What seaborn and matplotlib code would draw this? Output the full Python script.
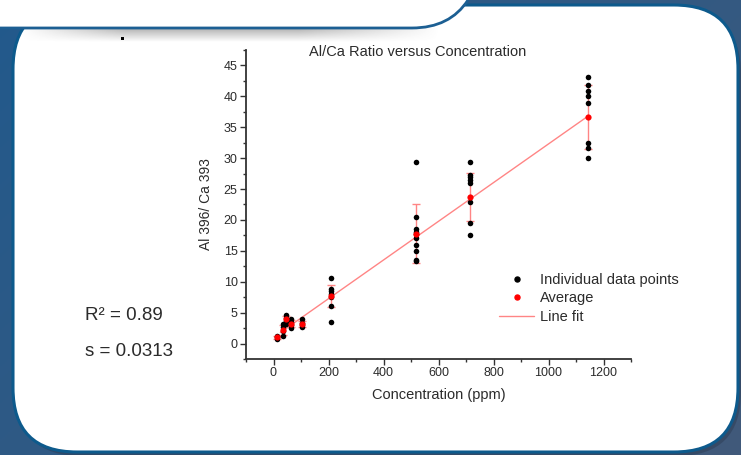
import numpy as np
import pandas as pd
import matplotlib
matplotlib.use("Agg")
import matplotlib.pyplot as plt
import matplotlib.colors as mcolors
from matplotlib.patches import FancyBboxPatch, PathPatch, Rectangle
from matplotlib.path import Path
from matplotlib.lines import Line2D
from matplotlib.ticker import MultipleLocator
import seaborn as sns

# ---- data -------------------------------------------------------------
conc_levels = [13, 33, 47, 62, 103, 208, 517, 715, 1142]   # ppm
ratios_13 = [0.8, 1.0, 1.2]
ratios_33 = [1.2, 2.0, 2.6, 3.1]
ratios_47 = [3.1, 3.7, 4.2, 4.6]
ratios_62 = [2.5, 3.0, 3.5, 3.9]
ratios_103 = [2.6, 3.0, 3.4, 3.9]
ratios_208 = [3.5, 6.0, 7.6, 8.0, 8.5, 8.9, 10.6]
ratios_517 = [13.3, 13.5, 14.9, 16.0, 17.1, 17.8, 18.1, 18.6, 20.5, 29.3]
ratios_715 = [17.6, 19.5, 22.9, 25.9, 26.4, 26.9, 27.3, 29.3]
ratios_1142 = [30.1, 31.6, 32.4, 38.9, 40.0, 40.8, 41.9, 43.1]
ratio_groups = [ratios_13, ratios_33, ratios_47, ratios_62, ratios_103,
                ratios_208, ratios_517, ratios_715, ratios_1142]

avg_ratio = [1.0, 2.2, 3.9, 3.2, 3.2, 7.7, 17.8, 23.7, 36.7]
avg_err = [0.2, 0.8, 0.6, 0.6, 0.5, 1.8, 4.8, 3.9, 5.2]

slope = 0.0313
intercept = 1.0
r_squared = 0.89
fit_x = [25, 1142]

x_ticks = [0, 200, 400, 600, 800, 1000, 1200]
y_ticks = [0, 5, 10, 15, 20, 25, 30, 35, 40, 45]

points = pd.DataFrame(
    [(c, r) for c, grp in zip(conc_levels, ratio_groups) for r in grp],
    columns=["conc", "ratio"],
)
fit_y = [slope * x + intercept for x in fit_x]

# ---- style --------------------------------------------------------------
sns.set_style("ticks")
plt.rcParams["font.family"] = ["Liberation Sans", "DejaVu Sans"]
TXT = "#2b2b2b"
FIT = "#ff8585"

W, H = 741, 455
fig = plt.figure(figsize=(W / 100, H / 100), dpi=100)

# ---- slide background ---------------------------------------------------
bg = fig.add_axes([0, 0, 1, 1], zorder=0)
bg.set_xlim(0, W)
bg.set_ylim(H, 0)
bg.axis("off")

gx = np.linspace(0, 1, 300)
gy = np.linspace(0, 1, 200)
G = gx[None, :] * 0.6 + gy[:, None] * 0.4
c0 = np.array(mcolors.to_rgb("#225a8c"))
c1 = np.array(mcolors.to_rgb("#41597a"))
bg.imshow(c0 + (c1 - c0) * G[..., None], extent=(0, W, H, 0),
          aspect="auto", zorder=0)

# drop shadow and white content panel
bg.add_patch(FancyBboxPatch((17, 10), 724, 446,
                            boxstyle="round,pad=0,rounding_size=64",
                            fc="#2e3f57", ec="none", alpha=0.55, zorder=1))
bg.add_patch(FancyBboxPatch((13, 5), 725, 447,
                            boxstyle="round,pad=0,rounding_size=64",
                            fc="white", ec="#0d5a8c", lw=2.2, zorder=2))

# shadow under the header tab
sh = np.zeros((30, 200, 4))
sh[..., :3] = 0.45
fade_v = np.linspace(0.55, 0.0, 30)[:, None]
fade_h = np.clip(np.minimum(np.linspace(0, 4, 200), np.linspace(3, 0, 200)), 0, 1)[None, :]
sh[..., 3] = fade_v * fade_h
bg.imshow(sh, extent=(20, 440, 42, 28), aspect="auto", zorder=3)

# header tab with curved lower-right corner
tab_verts = [(-5, -5), (468, -5), (468, 0), (450, 28), (412, 28), (-5, 28), (-5, -5)]
tab_codes = [Path.MOVETO, Path.LINETO, Path.LINETO, Path.CURVE3, Path.CURVE3,
             Path.LINETO, Path.CLOSEPOLY]
bg.add_patch(PathPatch(Path(tab_verts, tab_codes), fc="white", ec="none", zorder=4))
edge = Path([(468, 0), (450, 28), (412, 28), (-5, 28)],
            [Path.MOVETO, Path.CURVE3, Path.CURVE3, Path.LINETO])
bg.add_patch(PathPatch(edge, fc="none", ec="#1c5f93", lw=2.0, zorder=5))
bg.add_patch(Rectangle((121, 37), 3, 3, fc="black", ec="none", zorder=6))

# ---- chart --------------------------------------------------------------
L, R, T, B = 246, 631, 50, 359
ax = fig.add_axes([L / W, 1 - B / H, (R - L) / W, (B - T) / H], zorder=2)
ax.patch.set_alpha(0)

sns.lineplot(x=fit_x, y=fit_y, color=FIT, lw=1.0, ax=ax, zorder=2)
ax.errorbar(conc_levels, avg_ratio, yerr=avg_err, fmt="none", ecolor=FIT,
            elinewidth=1.0, capsize=2.6, capthick=1.0, zorder=2)
sns.scatterplot(data=points, x="conc", y="ratio", color="black", s=16,
                linewidth=0, ax=ax, zorder=3)
sns.scatterplot(x=conc_levels, y=avg_ratio, color="#ff0000", s=20,
                linewidth=0, ax=ax, zorder=4)

ax.set_xlim(-100, 1300)
ax.set_ylim(-2.5, 47.5)
ax.set_xticks(x_ticks)
ax.set_yticks(y_ticks)
ax.xaxis.set_minor_locator(MultipleLocator(100))
ax.yaxis.set_minor_locator(MultipleLocator(2.5))
for s in ("top", "right"):
    ax.spines[s].set_visible(False)
for s in ("left", "bottom"):
    ax.spines[s].set_color("#333333")
    ax.spines[s].set_linewidth(1.3)
ax.tick_params(which="major", direction="out", length=4, width=1.0,
               color="#333333", labelcolor=TXT, labelsize=9, pad=2)
ax.tick_params(which="minor", direction="out", length=2.5, width=1.0,
               color="#333333")
ax.set_xlabel("Concentration (ppm)", fontsize=10.5, color=TXT, labelpad=6)
ax.set_ylabel("Al 396/ Ca 393", fontsize=10, color=TXT, labelpad=8)

fig.text(418 / W, 1 - 52 / H, "Al/Ca Ratio versus Concentration",
         fontsize=10.5, color=TXT, ha="center", va="center")

handles = [
    Line2D([], [], marker="o", ls="none", color="black", ms=3.6),
    Line2D([], [], marker="o", ls="none", color="#ff0000", ms=3.6),
    Line2D([], [], color=FIT, lw=1.0),
]
fig.legend(handles, ["Individual data points", "Average", "Line fit"],
           loc="upper left", bbox_to_anchor=(499 / W, 1 - 273 / H),
           frameon=False, fontsize=10.5, handlelength=2.4, handletextpad=0.4,
           labelspacing=0.3, borderpad=0, borderaxespad=0, labelcolor=TXT)

fig.text(85 / W, 1 - 316 / H, f"R\u00b2 = {r_squared:.2f}", fontsize=13.5,
         color=TXT, ha="left", va="center")
fig.text(85 / W, 1 - 352 / H, f"s = {slope:.4f}", fontsize=13.5,
         color=TXT, ha="left", va="center")

fig.savefig("out.png", dpi=100)
